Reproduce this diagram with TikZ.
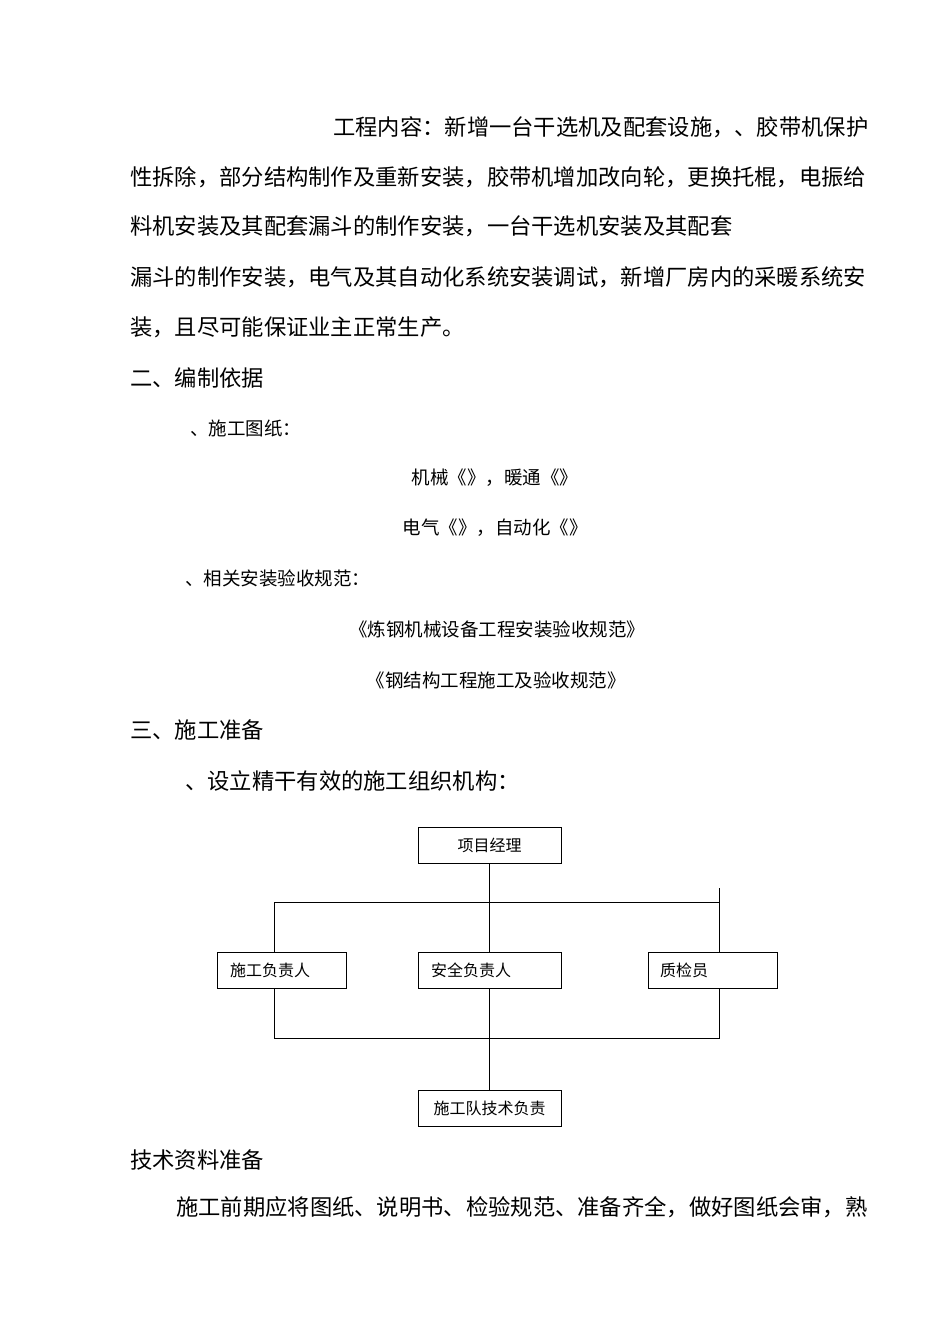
\documentclass[tikz,border=0pt]{standalone}
\usepackage{fontspec}
\newfontfamily\cjk{Noto Sans CJK SC}
\begin{document}
\begin{tikzpicture}[x=1pt,y=-1pt,
  body/.style={font=\cjk\fontsize{22.3}{23}\selectfont,inner sep=0pt},
  sub/.style={font=\cjk\fontsize{18.5}{19}\selectfont,inner sep=0pt},
  box/.style={draw,line width=0.9pt,minimum width=143pt,minimum height=36pt,inner sep=0pt,font=\cjk\fontsize{16}{17}\selectfont},
  ln/.style={line width=0.9pt}]
\useasboundingbox (0,0) rectangle (950,1344);
\node[body,anchor=west] (t1) at (333,127) {工程内容：新增一台干选机及配套设施，、胶带机保护};
\node[body,anchor=west] (t2) at (130,177) {性拆除，部分结构制作及重新安装，胶带机增加改向轮，更换托棍，电振给};
\node[body,anchor=west] (t3) at (130,226) {料机安装及其配套漏斗的制作安装，一台干选机安装及其配套};
\node[body,anchor=west] (t4) at (130,277) {漏斗的制作安装，电气及其自动化系统安装调试，新增厂房内的采暖系统安};
\node[body,anchor=west] (t5) at (130,327) {装，且尽可能保证业主正常生产。};
\node[body,anchor=west] (h2) at (130,378) {二、编制依据};
\node[sub,anchor=west] (s1) at (190,428) {、施工图纸：};
\node[sub] (s2) at (495,478) {机械《》，暖通《》};
\node[sub] (s3) at (495,528) {电气《》，自动化《》};
\node[sub,anchor=west] (s4) at (185,578) {、相关安装验收规范：};
\node[sub] (s5) at (497,629) {《炼钢机械设备工程安装验收规范》};
\node[sub] (s6) at (496,680) {《钢结构工程施工及验收规范》};
\node[body,anchor=west] (h3) at (130,730) {三、施工准备};
\node[body,anchor=west] (s7) at (185,781) {、设立精干有效的施工组织机构：};
\node[body,anchor=west] (h4) at (130,1160) {技术资料准备};
\node[body,anchor=west] (t6) at (176,1207) {施工前期应将图纸、说明书、检验规范、准备齐全，做好图纸会审，熟};
% chart
\node[box] (pm) at (489.5,845) {项目经理};
\node[box,minimum width=129pt,text width=103pt,align=left] (a) at (281.5,970) {施工负责人};
\node[box,text width=117pt,align=left] (b) at (489.5,970) {安全负责人};
\node[box,minimum width=129pt,text width=105pt,align=left] (c) at (712.5,970) {质检员};
\node[box] (d) at (489.5,1108) {施工队技术负责};
\coordinate (hl) at (274,902);
\coordinate (hr) at (719,902);
\coordinate (htop) at (719,888);
\coordinate (bl) at (274,1038);
\coordinate (br) at (719,1038);
\draw[ln] (pm.south) -- (b.north);
\draw[ln] (a.north -| hl) -- (hl) -- (hr);
\draw[ln] (htop) -- (c.north -| htop);
\draw[ln] (a.south -| bl) -- (bl) -- (br) -- (c.south -| br);
\draw[ln] (b.south) -- (d.north);
\end{tikzpicture}
\end{document}
